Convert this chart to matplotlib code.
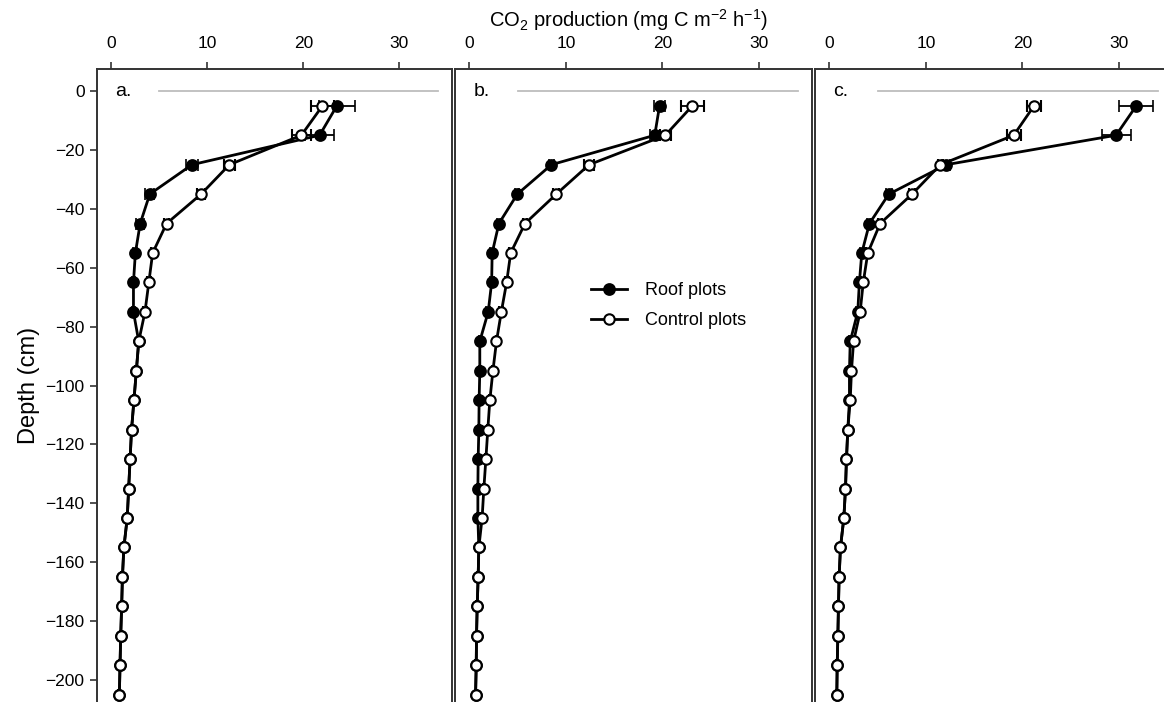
import numpy as np
import matplotlib
matplotlib.use("Agg")
import matplotlib.pyplot as plt
from matplotlib.lines import Line2D

plt.rcParams['font.family'] = ['Liberation Sans', 'DejaVu Sans']
plt.rcParams['mathtext.default'] = 'regular'

# depth of each sample (cm)
depth = [-5, -15, -25, -35, -45, -55, -65, -75, -85, -95, -105,
         -115, -125, -135, -145, -155, -165, -175, -185, -195, -205]

# panel a
a_roof = [23.5, 21.7, 8.4, 4.0, 3.0, 2.5, 2.3, 2.3, 2.85, 2.6, 2.35,
          2.1, 1.95, 1.8, 1.65, 1.3, 1.15, 1.07, 0.97, 0.9, 0.83]
a_roof_err = [1.9, 1.5, 0.65, 0.45, 0.4, 0.2, 0.2, 0.2, 0.1, 0.1, 0.1,
              0.1, 0.1, 0.1, 0.1, 0.1, 0.1, 0.1, 0.1, 0.1, 0.1]
a_ctrl = [22.0, 19.8, 12.3, 9.35, 5.75, 4.3, 3.9, 3.5, 2.85, 2.6, 2.35,
          2.1, 1.95, 1.8, 1.65, 1.3, 1.15, 1.07, 0.97, 0.9, 0.83]
a_ctrl_err = [1.2, 1.0, 0.6, 0.4, 0.3, 0.2, 0.2, 0.2, 0.1, 0.1, 0.1,
              0.1, 0.1, 0.1, 0.1, 0.1, 0.1, 0.1, 0.1, 0.1, 0.1]

# panel b
b_roof = [19.7, 19.2, 8.5, 4.96, 3.05, 2.35, 2.3, 1.94, 1.07, 1.07, 1.0,
          0.97, 0.9, 0.87, 0.87, 0.97, 0.9, 0.8, 0.73, 0.7, 0.63]
b_roof_err = [0.6, 0.5, 0.3, 0.2, 0.2, 0.2, 0.2, 0.2, 0.1, 0.1, 0.1,
              0.1, 0.1, 0.1, 0.1, 0.1, 0.1, 0.1, 0.1, 0.1, 0.1]
b_ctrl = [23.1, 20.3, 12.4, 9.0, 5.75, 4.27, 3.85, 3.3, 2.8, 2.43, 2.11,
          1.9, 1.7, 1.49, 1.31, 0.97, 0.9, 0.8, 0.73, 0.7, 0.63]
b_ctrl_err = [1.2, 0.6, 0.5, 0.3, 0.2, 0.2, 0.2, 0.2, 0.1, 0.1, 0.1,
              0.1, 0.1, 0.1, 0.1, 0.1, 0.1, 0.1, 0.1, 0.1, 0.1]

# panel c
c_roof = [31.8, 29.7, 12.1, 6.15, 4.14, 3.35, 3.1, 2.93, 2.15, 2.07, 2.07,
          1.9, 1.76, 1.66, 1.49, 1.14, 1.0, 0.93, 0.87, 0.8, 0.76]
c_roof_err = [1.75, 1.5, 0.4, 0.3, 0.2, 0.2, 0.2, 0.2, 0.1, 0.1, 0.1,
              0.1, 0.1, 0.1, 0.1, 0.1, 0.1, 0.1, 0.1, 0.1, 0.1]
c_ctrl = [21.2, 19.1, 11.5, 8.56, 5.25, 3.97, 3.5, 3.18, 2.5, 2.28, 2.15,
          1.9, 1.76, 1.66, 1.49, 1.14, 1.0, 0.93, 0.87, 0.8, 0.76]
c_ctrl_err = [0.75, 0.7, 0.3, 0.3, 0.2, 0.2, 0.2, 0.2, 0.1, 0.1, 0.1,
              0.1, 0.1, 0.1, 0.1, 0.1, 0.1, 0.1, 0.1, 0.1, 0.1]

panel_labels = ["a.", "b.", "c."]
x_ticks = [0, 10, 20, 30]
y_ticks = list(range(0, -201, -20))

panels = [
    (a_roof, a_roof_err, a_ctrl, a_ctrl_err),
    (b_roof, b_roof_err, b_ctrl, b_ctrl_err),
    (c_roof, c_roof_err, c_ctrl, c_ctrl_err),
]

W, H = 1164, 702
fig = plt.figure(figsize=(W / 100, H / 100), dpi=100)

# axes boxes in pixels: left, width
boxes = [(97, 355), (455, 357), (815, 357)]
top_px = 69

roof_style = dict(color="black", lw=2.0, marker="o", ms=8, mfc="black",
                  mec="black", mew=1.2)
ctrl_style = dict(color="black", lw=2.0, marker="o", ms=7.5, mfc="white",
                  mec="black", mew=1.5)

axes = []
for i, ((left, width), (roof, roof_err, ctrl, ctrl_err)) in enumerate(zip(boxes, panels)):
    ax = fig.add_axes([left / W, 0.0, width / W, (H - top_px) / H])
    axes.append(ax)

    ax.plot([5, 34], [0, 0], color="#bdbdbd", lw=1.3, zorder=1)

    ax.errorbar(roof, depth, xerr=roof_err, ecolor="black", elinewidth=1.3,
                capsize=4, capthick=1.3, zorder=3, **roof_style)
    ax.errorbar(ctrl, depth, xerr=ctrl_err, ecolor="black", elinewidth=1.3,
                capsize=4, capthick=1.3, zorder=4, **ctrl_style)

    ax.set_xlim(-1.5, 35.5)
    ax.set_ylim(-207.5, 7.5)
    ax.xaxis.tick_top()
    ax.set_xticks(x_ticks)
    ax.tick_params(axis="x", direction="out", length=5, width=1.2,
                   color="#333333", labelsize=12.5, pad=8)
    if i == 0:
        ax.set_yticks(y_ticks)
        ax.tick_params(axis="y", direction="out", length=5, width=1.2,
                       color="#333333", labelsize=12.5, pad=4)
        ax.set_ylabel("Depth (cm)", fontsize=17, labelpad=4)
    else:
        ax.set_yticks([])
    for side, sp in ax.spines.items():
        sp.set_color("#333333")
        sp.set_linewidth(1.4)
    ax.spines["bottom"].set_visible(False)

    ax.text(0.4, 0, panel_labels[i], fontsize=14, va="center", ha="left")

handles = [Line2D([], [], **roof_style), Line2D([], [], **ctrl_style)]
axes[1].legend(handles, ["Roof plots", "Control plots"], loc="upper left",
               bbox_to_anchor=(0.36, 0.675), frameon=False, fontsize=13,
               handlelength=2.0, handletextpad=1.0, labelspacing=0.75,
               borderaxespad=0)

fig.text(0.54, 0.972, r"CO$_2$ production (mg C m$^{-2}$ h$^{-1}$)",
         ha="center", va="center", fontsize=14.5)

fig.savefig("out.png", dpi=100)
